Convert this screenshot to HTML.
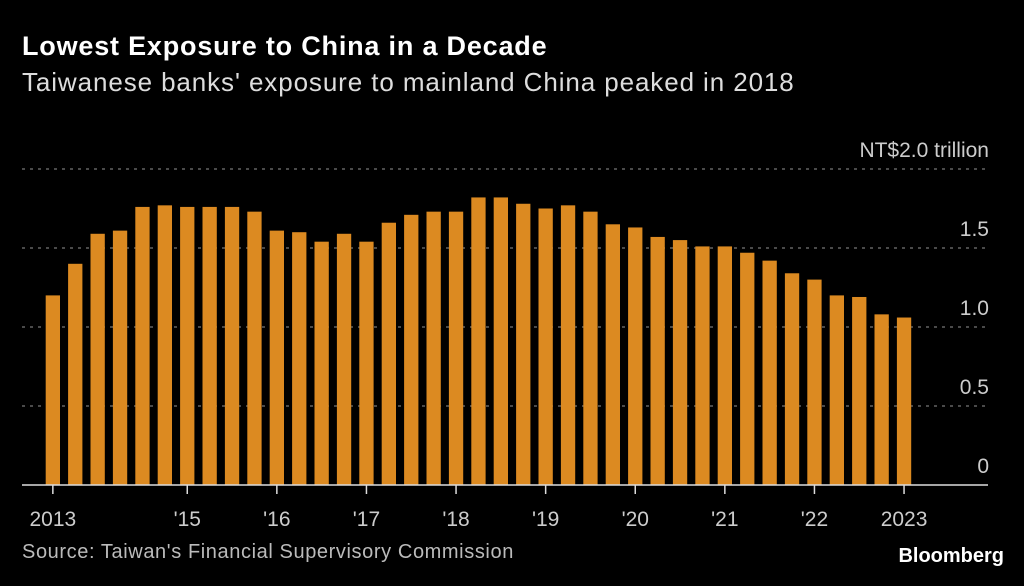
<!DOCTYPE html>
<html><head><meta charset="utf-8"><style>
html,body{margin:0;padding:0;background:#000;}
body{width:1024px;height:586px;overflow:hidden;font-family:"Liberation Sans",sans-serif;color:#fff;position:relative;}
.t{position:absolute;white-space:nowrap;}
</style></head><body>
<div class="t" style="left:22px;top:31px;font-size:27px;font-weight:bold;letter-spacing:0.8px;">Lowest Exposure to China in a Decade</div>
<div class="t" style="left:22px;top:67px;font-size:26px;color:#ddd;letter-spacing:0.9px;">Taiwanese banks' exposure to mainland China peaked in 2018</div>
<svg id="chart" width="1024" height="586" style="position:absolute;left:0;top:0;"></svg>
<div class="t" style="left:22px;top:541px;font-size:20px;color:#bbb;letter-spacing:0.6px;">Source: Taiwan's Financial Supervisory Commission</div>
<div class="t" style="right:20px;top:545px;font-size:20px;font-weight:bold;">Bloomberg</div>
<script>
const values=[1.20,1.40,1.59,1.61,1.76,1.77,1.76,1.76,1.76,1.73,1.61,1.60,1.54,1.59,1.54,1.66,1.71,1.73,1.73,1.82,1.82,1.78,1.75,1.77,1.73,1.65,1.63,1.57,1.55,1.51,1.51,1.47,1.42,1.34,1.30,1.20,1.19,1.08,1.06];
const yTicks=[0,0.5,1.0,1.5,2.0];
const yTickLabels=["0","0.5","1.0","1.5","NT$2.0 trillion"];
const xTickIndex=[0,6,10,14,18,22,26,30,34,38];
const xTickLabels=["2013","'15","'16","'17","'18","'19","'20","'21","'22","2023"];
const NS="http://www.w3.org/2000/svg";
const svg=document.getElementById('chart');
const y0=485,yScale=158,x0=45.7,step=22.4,bw=14.3;
const Y=v=>y0-v*yScale;
const X=i=>x0+i*step;
function mk(tag,at){const e=document.createElementNS(NS,tag);for(const k in at)e.setAttribute(k,at[k]);svg.appendChild(e);return e;}
yTicks.forEach((v,i)=>{
  if(v>0){const l=mk('line',{x1:22,x2:988,y1:Y(v),y2:Y(v),stroke:'#777','stroke-width':1.2,'stroke-dasharray':'3,5'});
  
  }
  const t=mk('text',{x:989,y:Y(v)-12,'text-anchor':'end','font-size':21,fill:'#ccc','font-family':'Liberation Sans, sans-serif'});
  t.textContent=yTickLabels[i];
  
  
});
values.forEach((v,i)=>{
  const r=mk('rect',{x:X(i),y:Y(v),width:bw,height:v*yScale,fill:'#dc8a21'});
  
  
});
const ax=mk('line',{x1:22,x2:988,y1:y0,y2:y0,stroke:'#ddd','stroke-width':1.5});


xTickIndex.forEach((idx,i)=>{
  const cx=X(idx)+bw/2;
  const tk=mk('line',{x1:cx,x2:cx,y1:y0,y2:y0+9,stroke:'#ddd','stroke-width':1.5});
  
  
  const t=mk('text',{x:cx,y:526,'text-anchor':'middle','font-size':21,fill:'#ccc','font-family':'Liberation Sans, sans-serif'});
  t.textContent=xTickLabels[i];
  
  
});
</script>
</body></html>
